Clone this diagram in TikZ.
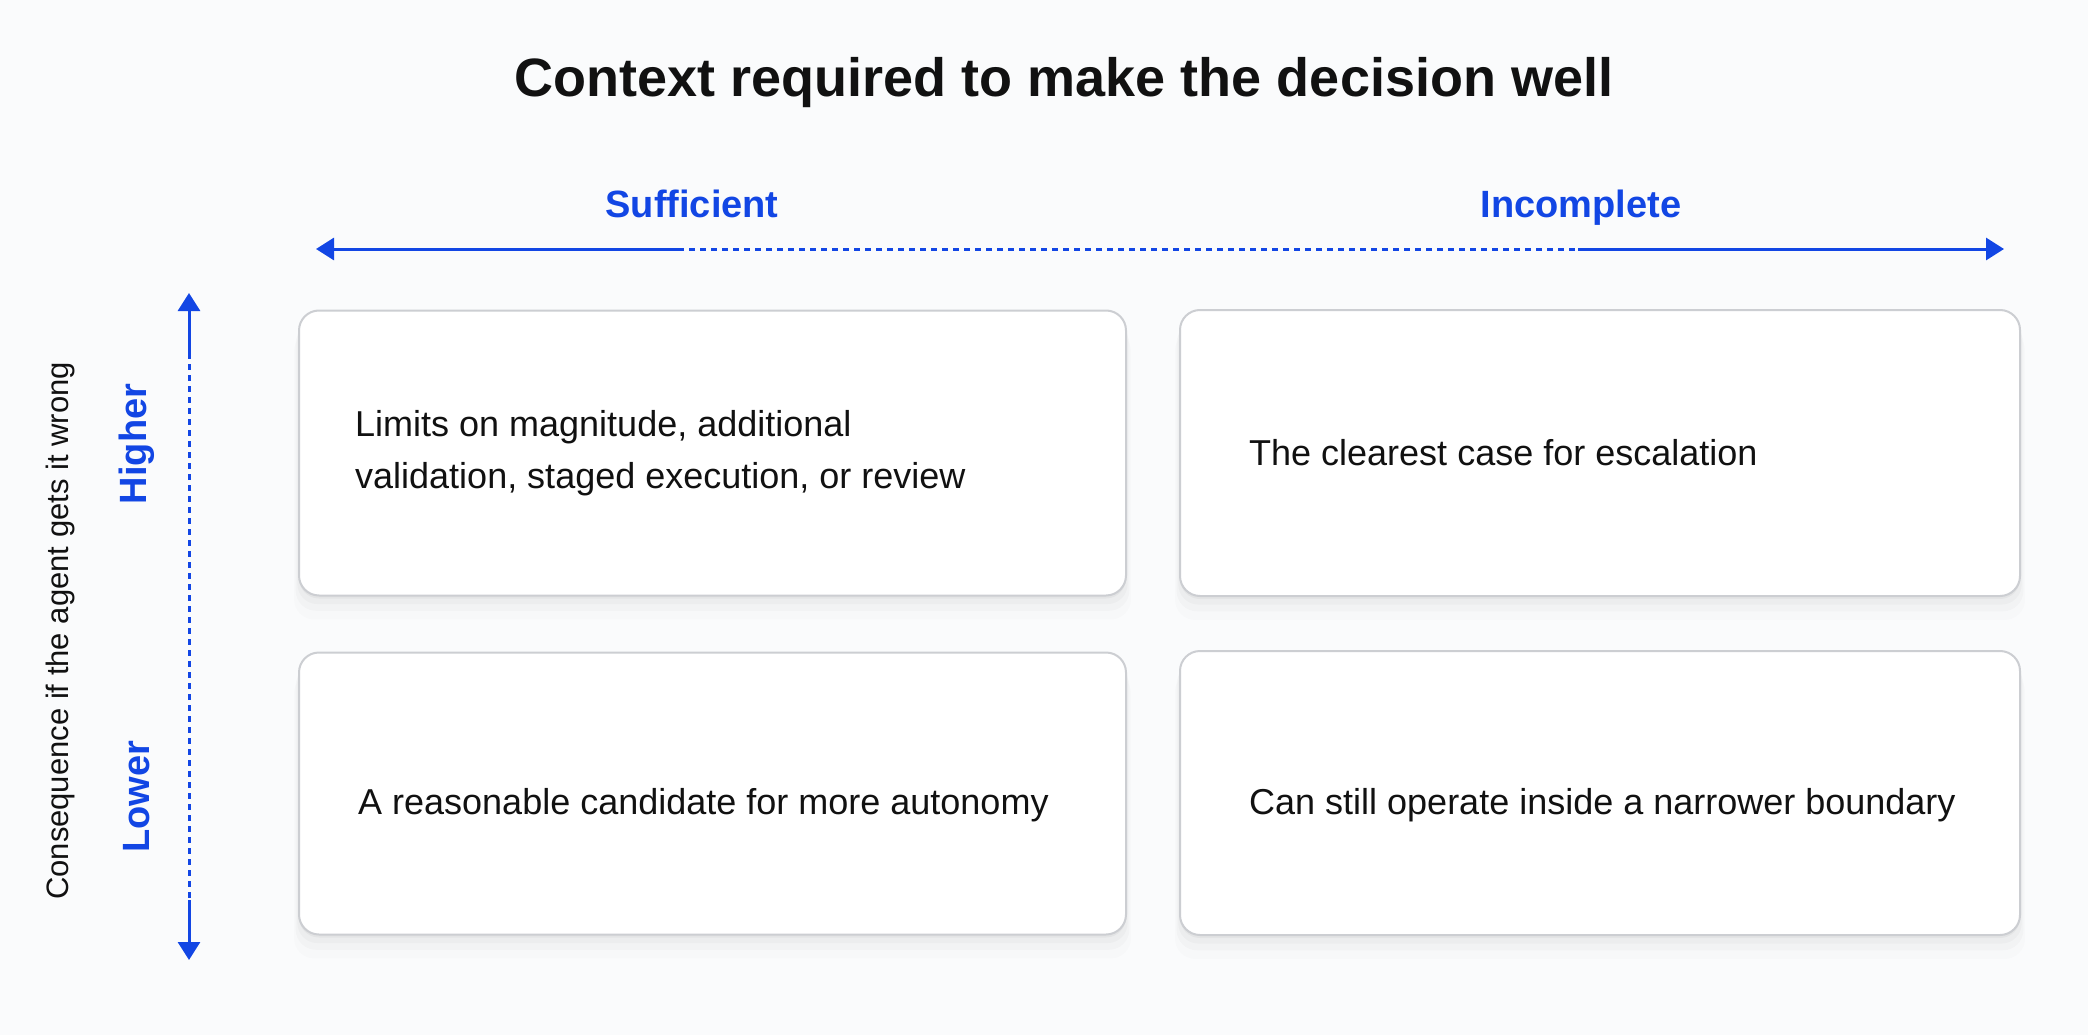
\documentclass[tikz,border=0pt]{standalone}
\usepackage{fontspec}
\setmainfont{Liberation Sans}
\usetikzlibrary{positioning,arrows.meta,shadows}

\definecolor{axisblue}{RGB}{18,70,228}
\definecolor{pagebg}{RGB}{250,251,252}
\definecolor{cardline}{RGB}{204,206,210}
\definecolor{inkblack}{RGB}{17,17,17}

\tikzset{
  card/.style={draw=cardline,line width=2pt,fill=white,rounded corners=20pt,
    drop shadow={shadow xshift=0pt,shadow yshift=-3pt,opacity=.035,fill=black},
    drop shadow={shadow xshift=0pt,shadow yshift=-8pt,shadow scale=1.004,opacity=.025,fill=black},
    drop shadow={shadow xshift=0pt,shadow yshift=-14pt,shadow scale=1.008,opacity=.018,fill=black},
    drop shadow={shadow xshift=0pt,shadow yshift=-22pt,shadow scale=1.012,opacity=.012,fill=black}},
  celltext/.style={inner sep=0pt,align=left,text=inkblack,font=\fontsize{36}{52}\selectfont},
  axislabel/.style={inner sep=0pt,text=axisblue,font=\bfseries\fontsize{38}{44}\selectfont},
  axisline/.style={draw=axisblue,line width=3pt},
  axisdots/.style={draw=axisblue,line width=3pt,dash pattern=on 6pt off 5pt},
  tip/.style={-{Triangle[length=18pt,width=22pt]}}
}

\begin{document}
\begin{tikzpicture}[x=1pt,y=-1pt]

  \fill [pagebg] (0,0) rectangle (2088,1035);
  \useasboundingbox (0,0) rectangle (2088,1035);

  % Title
  \node [inner sep=0pt,text=inkblack,font=\bfseries\fontsize{54}{60}\selectfont] (title) at (1064,83) {Context required to make the decision well};

  % Horizontal axis
  \node [axislabel,anchor=base] (suff) at (692,218) {Sufficient};
  \node [axislabel,anchor=base] (inc) at (1581,218) {Incomplete};
  \node [coordinate] (xl) at (316,249) {};
  \node [coordinate,right=362pt of xl] (xa) {};
  \node [coordinate,right=900pt of xa] (xb) {};
  \node [coordinate,right=426pt of xb] (xr) {};
  \draw [axisline,tip] (xa) -- (xl);
  \draw [axisdots] (xa) -- (xb);
  \draw [axisline,tip] (xb) -- (xr);

  % Vertical axis
  \node [coordinate] (yt) at (189,293) {};
  \node [coordinate,below=60pt of yt] (ya) {};
  \node [coordinate,below=547pt of ya] (yb) {};
  \node [coordinate,below=60pt of yb] (yd) {};
  \draw [axisline,tip] (ya) -- (yt);
  \draw [axisdots] (ya) -- (yb);
  \draw [axisline,tip] (yb) -- (yd);
  \node [axislabel,rotate=90] (high) at (137,444) {Higher};
  \node [axislabel,rotate=90] (low) at (137,797) {Lower};
  \node [inner sep=0pt,rotate=90,text=inkblack,font=\fontsize{31}{36}\selectfont] (cons) at (60,631) {Consequence if the agent gets it wrong};

  % Row 1
  \node [card,minimum width=827pt,minimum height=285pt] (hs) at (712.5,453) {};
  \node [card,minimum width=840pt,minimum height=286pt,right=52pt of hs] (hi) {};
  \node [celltext,right=57pt of hs.west] (hstext) {Limits on magnitude, additional\\validation, staged execution, or review};
  \node [celltext,right=70pt of hi.west] (hitext) {The clearest case for escalation};

  % Row 2
  \node [card,minimum width=827pt,minimum height=282pt,below=55pt of hs] (ls) {};
  \node [card,minimum width=840pt,minimum height=284pt,below=53pt of hi] (li) {};
  \node [celltext,right=60pt of ls.west,yshift=-12pt] (lstext) {A reasonable candidate for more autonomy};
  \node [celltext,right=70pt of li.west,yshift=-12pt] (litext) {Can still operate inside a narrower boundary};

\end{tikzpicture}
\end{document}
